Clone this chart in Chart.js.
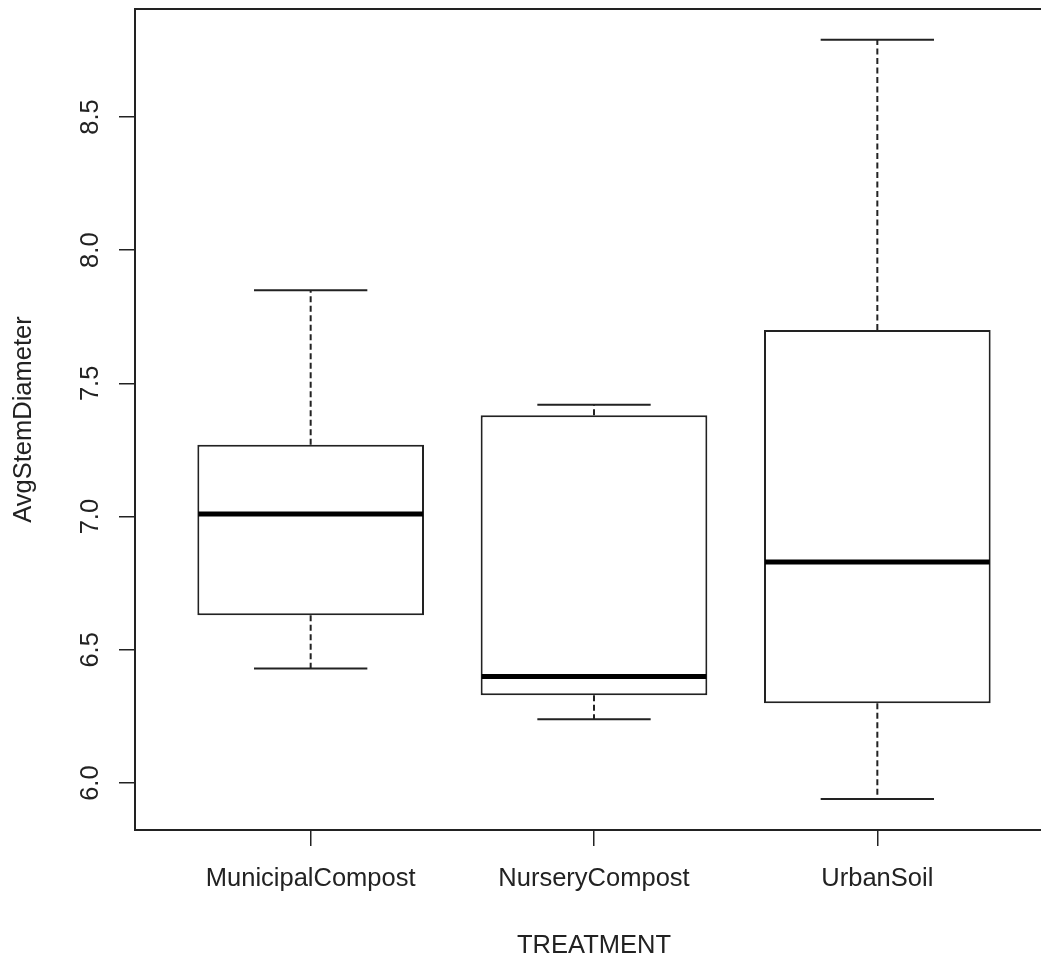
<!DOCTYPE html>
<html>
<head>
<meta charset="utf-8">
<script src="https://cdn.jsdelivr.net/npm/chart.js@4.4.1/dist/chart.umd.min.js"></script>
<style>
  html, body { margin: 0; padding: 0; background: #fff; overflow: hidden; }
  #wrap { width: 1060px; height: 961px; }
</style>
</head>
<body>
<div id="wrap"><canvas id="boxChart" width="1060" height="961"></canvas></div>
<script>
// boxplot of AvgStemDiameter by TREATMENT

// data
const categories = ['MunicipalCompost', 'NurseryCompost', 'UrbanSoil'];
const whiskerLow  = [6.43, 6.24, 5.94];
const q1          = [6.63, 6.33, 6.30];
const median      = [7.01, 6.40, 6.83];
const q3          = [7.27, 7.38, 7.70];
const whiskerHigh = [7.85, 7.42, 8.79];
const yTicks      = [6.0, 6.5, 7.0, 7.5, 8.0, 8.5];
const yTickLabels = ['6.0', '6.5', '7.0', '7.5', '8.0', '8.5'];

const ink = '#222';
const fontFamily = '"Liberation Sans", Arial, sans-serif';

// whiskers, caps, medians, top/right frame and rotated y labels
const boxExtras = {
  id: 'boxExtras',
  afterDatasetsDraw(chart) {
    const { ctx, chartArea } = chart;
    const xs = chart.scales.x;
    const ys = chart.scales.y;
    ctx.save();
    ctx.strokeStyle = ink;
    categories.forEach((c, i) => {
      const cx = xs.getPixelForValue(i + 1);
      const boxHalf = xs.getPixelForValue(i + 1.4) - cx;
      const capHalf = xs.getPixelForValue(i + 1.2) - cx;

      // dashed whiskers
      ctx.setLineDash([6, 3.5]);
      ctx.lineWidth = 2;
      ctx.beginPath();
      ctx.moveTo(cx, ys.getPixelForValue(q3[i]));
      ctx.lineTo(cx, ys.getPixelForValue(whiskerHigh[i]));
      ctx.moveTo(cx, ys.getPixelForValue(q1[i]));
      ctx.lineTo(cx, ys.getPixelForValue(whiskerLow[i]));
      ctx.stroke();

      // caps
      ctx.setLineDash([]);
      ctx.beginPath();
      ctx.moveTo(cx - capHalf, ys.getPixelForValue(whiskerHigh[i]));
      ctx.lineTo(cx + capHalf, ys.getPixelForValue(whiskerHigh[i]));
      ctx.moveTo(cx - capHalf, ys.getPixelForValue(whiskerLow[i]));
      ctx.lineTo(cx + capHalf, ys.getPixelForValue(whiskerLow[i]));
      ctx.stroke();

      // median
      ctx.strokeStyle = '#000';
      ctx.lineWidth = 5;
      ctx.beginPath();
      ctx.moveTo(cx - boxHalf + 1, ys.getPixelForValue(median[i]));
      ctx.lineTo(cx + boxHalf - 1, ys.getPixelForValue(median[i]));
      ctx.stroke();
      ctx.strokeStyle = ink;
    });

    // rest of the frame
    ctx.lineWidth = 2;
    ctx.beginPath();
    ctx.moveTo(chartArea.left, chartArea.top);
    ctx.lineTo(chartArea.right, chartArea.top);
    ctx.lineTo(chartArea.right, chartArea.bottom);
    ctx.stroke();

    // y tick labels, turned like R does
    ctx.fillStyle = ink;
    ctx.font = '25.5px ' + fontFamily;
    ctx.textAlign = 'center';
    ctx.textBaseline = 'alphabetic';
    yTicks.forEach((v, k) => {
      ctx.save();
      ctx.translate(98, ys.getPixelForValue(v));
      ctx.rotate(-Math.PI / 2);
      ctx.fillText(yTickLabels[k], 0, 0);
      ctx.restore();
    });
    ctx.restore();
  }
};

const ctx = document.getElementById('boxChart').getContext('2d');

new Chart(ctx, {
  type: 'bar',
  data: {
    datasets: [{
      data: categories.map((c, i) => ({ x: i + 1, y: [q1[i], q3[i]] })),
      backgroundColor: '#fff',
      borderColor: ink,
      borderWidth: 2,
      borderSkipped: false,
      categoryPercentage: 1,
      barPercentage: 0.8
    }]
  },
  options: {
    responsive: false,
    animation: false,
    layout: { padding: { top: 9, right: 7, left: 0, bottom: 0 } },
    plugins: {
      legend: { display: false },
      tooltip: { enabled: false }
    },
    scales: {
      x: {
        type: 'linear',
        min: 0.38,
        max: 3.62,
        offset: false,
        afterBuildTicks: scale => { scale.ticks = categories.map((c, i) => ({ value: i + 1 })); },
        afterFit: scale => { scale.height = 131; },
        ticks: {
          autoSkip: false,
          maxRotation: 0,
          padding: 18,
          color: ink,
          font: { family: fontFamily, size: 25.5 },
          callback: v => categories[v - 1]
        },
        grid: { offset: false, drawOnChartArea: false, tickLength: 16, color: ink, lineWidth: 1.5 },
        border: { display: true, color: ink, width: 2 },
        title: {
          display: true,
          text: 'TREATMENT',
          color: ink,
          font: { family: fontFamily, size: 25.5 },
          padding: { top: 0, bottom: 0 }
        }
      },
      y: {
        type: 'linear',
        min: 5.824,
        max: 8.905,
        afterBuildTicks: scale => { scale.ticks = yTicks.map(v => ({ value: v })); },
        afterFit: scale => { scale.width = 135; },
        ticks: { display: false },
        grid: { drawOnChartArea: false, tickLength: 16, color: ink, lineWidth: 1.5 },
        border: { display: true, color: ink, width: 2 },
        title: {
          display: true,
          text: 'AvgStemDiameter',
          color: ink,
          font: { family: fontFamily, size: 25.5 },
          padding: { top: 9, bottom: 0 }
        }
      }
    }
  },
  plugins: [boxExtras]
});
</script>
</body>
</html>
